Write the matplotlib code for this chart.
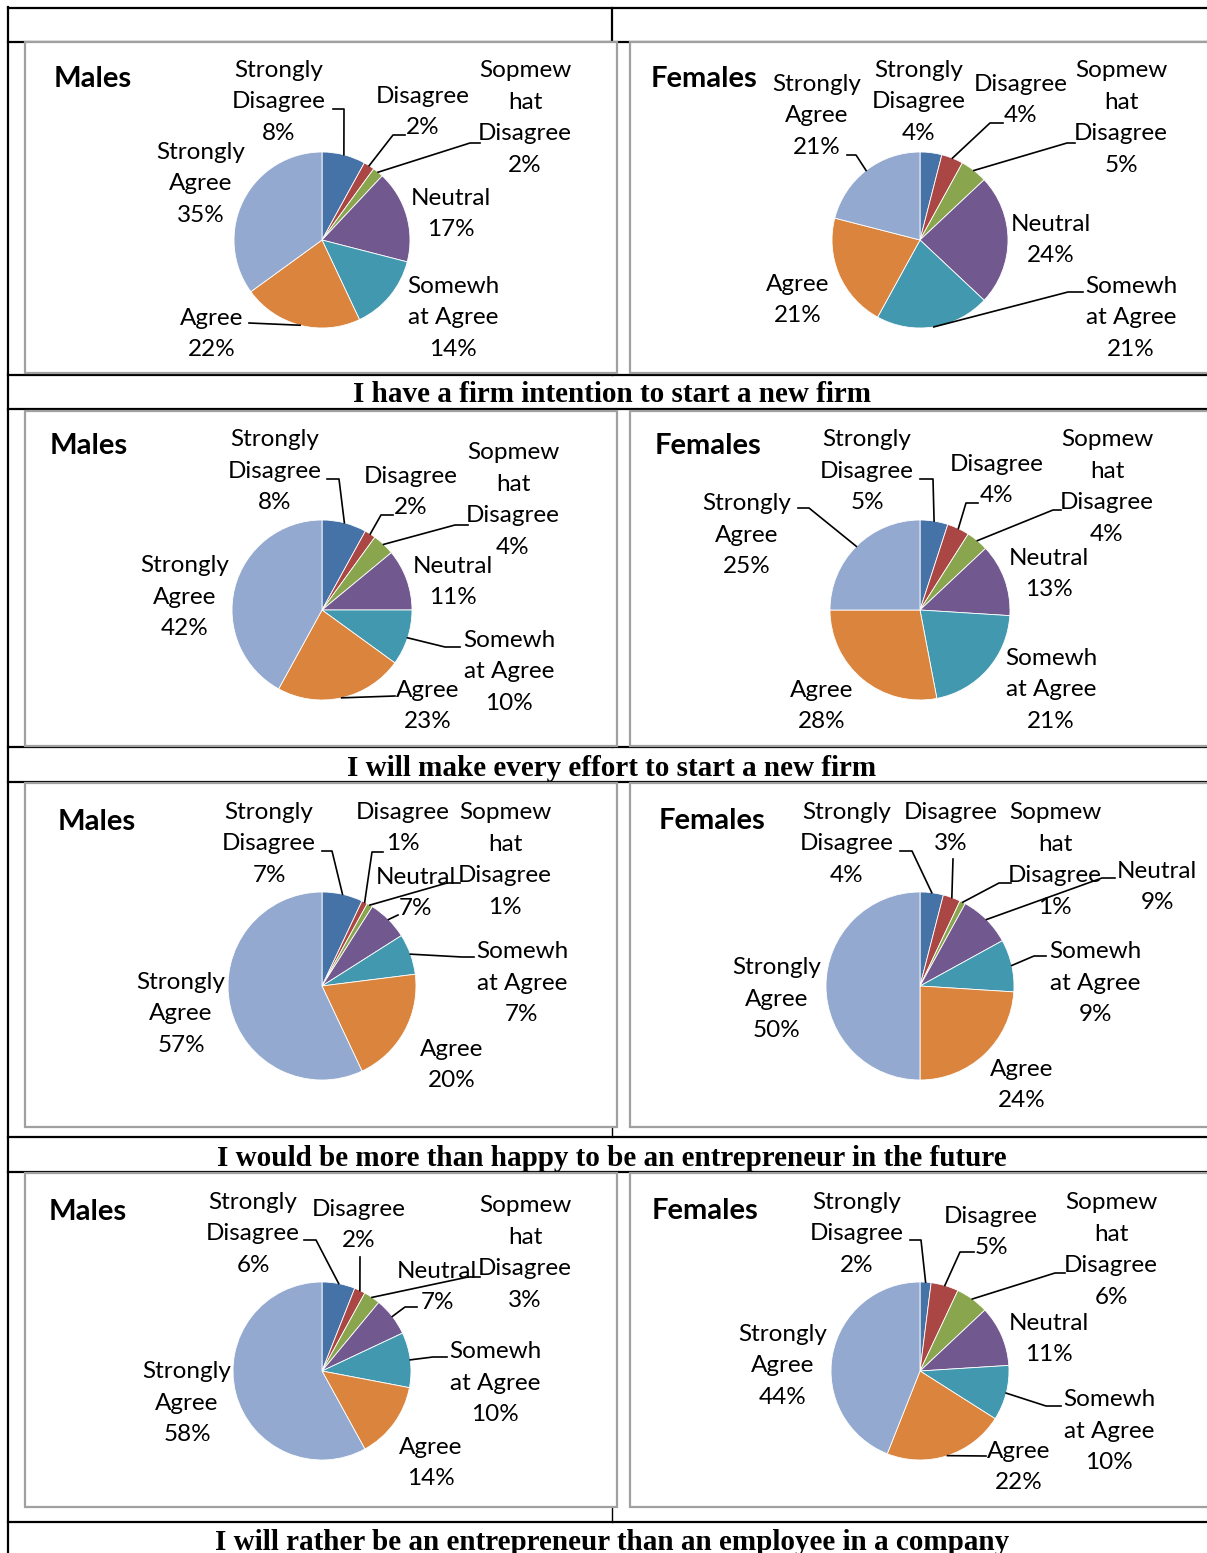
import numpy as np
import matplotlib.pyplot as plt

# answer categories, clockwise from 12 o'clock
categories = ['Strongly\nDisagree', 'Disagree', 'Sopmew\nhat\nDisagree', 'Neutral',
              'Somewh\nat Agree', 'Agree', 'Strongly\nAgree']
colors = ['#4572A7', '#AA4643', '#89A54E', '#71588F', '#4198AF', '#DB843D', '#93A9CF']

questions = ['I have a firm intention to start a new firm',
             'I will make every effort to start a new firm',
             'I would be more than happy to be an entrepreneur in the future',
             'I will rather be an entrepreneur than an employee in a company']

males_q1 = [8, 2, 2, 17, 14, 22, 35]
females_q1 = [4, 4, 5, 24, 21, 21, 21]
males_q2 = [8, 2, 4, 11, 10, 23, 42]
females_q2 = [5, 4, 4, 13, 21, 28, 25]
males_q3 = [7, 1, 1, 7, 7, 20, 57]
females_q3 = [4, 3, 1, 9, 9, 24, 50]
males_q4 = [6, 2, 3, 7, 10, 14, 58]
females_q4 = [2, 5, 6, 11, 10, 22, 44]

W, H = 1207, 1553
LABEL_FONT = 'Lato'

# panel layout in pixels: pie centre, radius, title, label centres, leader lines
panels = [
    dict(title='Males', vals=males_q1, c=(322, 240), r=88, tpos=(54, 79),
         lab=[(279, 102), (423, 112), (525, 118), (451, 214), (453, 318), (212, 334), (201, 184)],
         lead=[(333, 109, 344), (405, 135, 393), (480, 143, 470), None, None, (249, 323, None), None]),
    dict(title='Females', vals=females_q1, c=(920, 240), r=88, tpos=(651, 79),
         lab=[(919, 102), (1021, 100), (1121, 118), (1051, 240), (1131, 318), (798, 300), (817, 116)],
         lead=[None, (1003, 123, 990), (1075, 143, 1067), None, (1083, 292, 1068), None, (847, 155, 856)]),
    dict(title='Males', vals=males_q2, c=(322, 610), r=90, tpos=(50, 446),
         lab=[(275, 471), (411, 492), (513, 500), (453, 582), (509, 672), (428, 706), (185, 597)],
         lead=[(327, 479, 339), (393, 515, 381), (468, 525, 455), None, (460, 647, 445), (395, 696, None), None]),
    dict(title='Females', vals=females_q2, c=(920, 610), r=90, tpos=(655, 446),
         lab=[(867, 471), (997, 480), (1107, 487), (1049, 574), (1051, 690), (822, 706), (747, 535)],
         lead=[(920, 479, 933), (978, 503, 966), (1061, 510, 1053), None, None, None, (798, 508, 809)]),
    dict(title='Males', vals=males_q3, c=(322, 986), r=94, tpos=(58, 822),
         lab=[(269, 844), (403, 828), (505, 860), (416, 893), (522, 983), (452, 1065), (181, 1014)],
         lead=[(322, 851, 332), (383, 852, 372), (460, 883, 447), (398, 915, None), (474, 957, 462), None, None]),
    dict(title='Females', vals=females_q3, c=(920, 986), r=94, tpos=(659, 821),
         lab=[(847, 844), (951, 828), (1055, 860), (1157, 887), (1095, 983), (1022, 1085), (777, 999)],
         lead=[(900, 851, 912), (953, 859, None), (1011, 883, 999), (1115, 878, 1102), (1046, 956, 1034), None, None]),
    dict(title='Males', vals=males_q4, c=(322, 1371), r=89, tpos=(49, 1212),
         lab=[(253, 1234), (359, 1225), (525, 1253), (437, 1287), (495, 1383), (431, 1463), (187, 1403)],
         lead=[(304, 1240, 316), (360, 1257, None), (480, 1277, 468), (417, 1307, 405), (447, 1357, 433), None, None]),
    dict(title='Females', vals=females_q4, c=(920, 1371), r=89, tpos=(652, 1211),
         lab=[(857, 1234), (991, 1232), (1111, 1250), (1049, 1339), (1109, 1431), (1019, 1467), (783, 1366)],
         lead=[(910, 1240, 921), (974, 1252, 960), (1065, 1273, 1055), None, (1061, 1406, 1046), (986, 1456, None), None]),
]

# chart rows: box top, box bottom, caption line top, caption centre, caption line bottom
rows = [(42, 373, 375, 395, 409), (411, 746, 747, 768, 782),
        (783, 1127, 1137, 1159, 1172), (1173, 1507, 1522, 1542, None)]

fig = plt.figure(figsize=(W / 100, H / 100), dpi=100)
ax = fig.add_axes([0, 0, 1, 1])

# table grid
lw_tab = 1.6
ax.plot([8, W], [8, 8], color='black', lw=lw_tab, zorder=1)
ax.plot([8, W], [42, 42], color='black', lw=lw_tab, zorder=1)
ax.plot([8, 8], [7, H], color='black', lw=lw_tab, zorder=1)
ax.plot([612, 612], [8, 42], color='black', lw=lw_tab, zorder=1)
for (top, bot, l1, cy_cap, l2), q in zip(rows, questions):
    ax.plot([612, 612], [top, l1], color='black', lw=1.0, zorder=1)
    ax.plot([8, W], [l1, l1], color='black', lw=lw_tab, zorder=1)
    if l2 is not None:
        ax.plot([8, W], [l2, l2], color='black', lw=lw_tab, zorder=1)
    ax.text(612, cy_cap, q, ha='center', va='center', fontsize=21,
            fontweight='bold', family='Liberation Serif', zorder=5)
    for x0, x1 in [(25, 617), (630, W + 5)]:
        ax.add_patch(plt.Rectangle((x0, top), x1 - x0, bot - top, facecolor='white',
                                   edgecolor='#a0a0a0', lw=1.6, zorder=2))

for p in panels:
    cx, cy = p['c']
    r = p['r']
    vals = np.array(p['vals'], dtype=float)
    ax.pie(vals, center=(cx, cy), radius=r, startangle=270, counterclock=True,
           colors=colors, frame=True,
           wedgeprops=dict(edgecolor='white', linewidth=0.6, zorder=3))
    ax.text(p['tpos'][0], p['tpos'][1], p['title'], ha='left', va='center',
            fontsize=21, fontweight='bold', family=LABEL_FONT, zorder=5)
    frac = np.cumsum(vals) / vals.sum()
    mids = frac - vals / vals.sum() / 2
    for i, cat in enumerate(categories):
        lx, ly = p['lab'][i]
        ax.text(lx, ly, '%s\n%d%%' % (cat, p['vals'][i]), ha='center', va='center',
                multialignment='center', fontsize=17.5, family=LABEL_FONT,
                linespacing=1.63, zorder=5)
        ld = p['lead'][i]
        if ld is not None:
            ang = 2 * np.pi * mids[i]
            wx, wy = cx + r * np.sin(ang), cy - r * np.cos(ang)
            x0, y0, xk = ld
            xs, ys = [x0], [y0]
            if xk is not None:
                xs.append(xk)
                ys.append(y0)
            xs.append(wx)
            ys.append(wy)
            ax.plot(xs, ys, color='black', lw=1.2, zorder=4)

ax.set_xlim(0, W)
ax.set_ylim(H, 0)
ax.set_aspect('auto')
ax.axis('off')
fig.savefig('out.png', dpi=100, facecolor='white')
